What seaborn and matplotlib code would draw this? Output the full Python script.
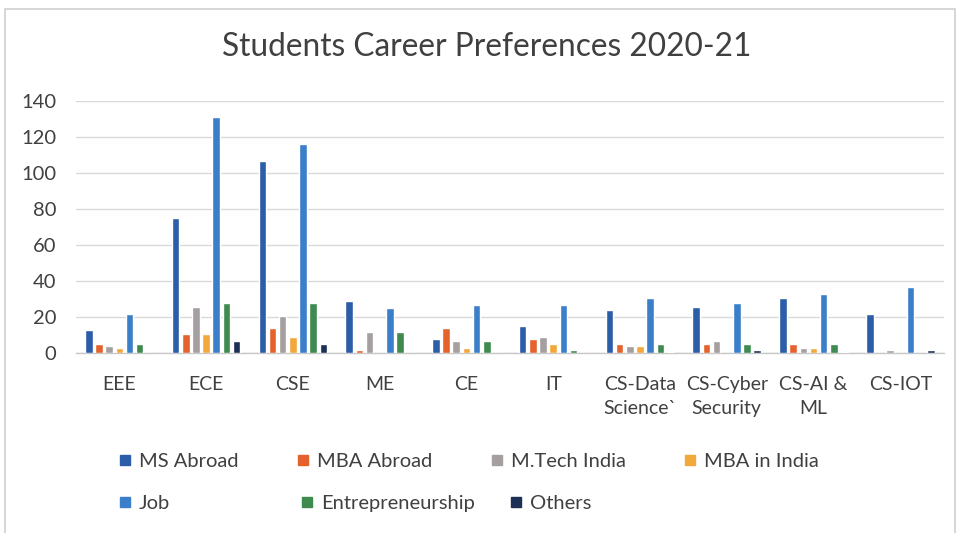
import matplotlib
matplotlib.use("Agg")
import matplotlib.pyplot as plt
from matplotlib.lines import Line2D
import seaborn as sns
import pandas as pd

branches = ["EEE", "ECE", "CSE", "ME", "CE", "IT",
            "CS-Data\nScience`", "CS-Cyber\nSecurity", "CS-AI &\nML", "CS-IOT"]
series = ["MS Abroad", "MBA Abroad", "M.Tech India", "MBA in India",
          "Job", "Entrepreneurship", "Others"]

ms_abroad = [13, 75, 107, 29, 8, 15, 24, 26, 31, 22]
mba_abroad = [5, 11, 14, 2, 14, 8, 5, 5, 5, 0.5]
mtech_india = [4, 26, 21, 12, 7, 9, 4, 7, 3, 2]
mba_india = [3, 11, 9, 0, 3, 5, 4, 0.5, 3, 0.5]
job = [22, 131, 116, 25, 27, 27, 31, 28, 33, 37]
entrepreneurship = [5, 28, 28, 12, 7, 2, 5, 5, 5, 0]
others = [0, 7, 5, 0, 0, 0, 1, 2, 1, 2]

yticks = [0, 20, 40, 60, 80, 100, 120, 140]

colors = ["#2c5da9", "#e5622c", "#a59f9f", "#f2a83a",
          "#3b7fca", "#3e8a4f", "#1c2f55"]

values = [ms_abroad, mba_abroad, mtech_india, mba_india, job, entrepreneurship, others]
rows = []
for s, vals in zip(series, values):
    for b, v in zip(branches, vals):
        rows.append({"Branch": b, "Preference": s, "Students": v})
df = pd.DataFrame(rows)

sns.set_theme(style="white")
plt.rcParams["font.family"] = ["Lato", "DejaVu Sans"]

fig = plt.figure(figsize=(9.61, 5.33), dpi=100)
fig.patch.set_facecolor("white")
ax = fig.add_axes([0.079, 0.3368, 0.903, 0.4737])

sns.barplot(data=df, x="Branch", y="Students", hue="Preference",
            order=branches, hue_order=series, palette=colors,
            width=0.82, gap=0.26, saturation=1, errorbar=None, ax=ax, zorder=3)

ax.set_ylim(0, 140)
ax.set_xlim(-0.5, len(branches) - 0.5)
ax.set_yticks(yticks)
ax.set_yticklabels([str(t) for t in yticks], fontsize=14.5, color="#404040")
ax.tick_params(axis="y", length=0, pad=14)
ax.tick_params(axis="x", length=0, pad=16)
for lab in ax.get_xticklabels():
    lab.set_fontsize(14)
    lab.set_color("#404040")
    lab.set_linespacing(1.55)
    lab.set_verticalalignment("top")
ax.set_xlabel("")
ax.set_ylabel("")
ax.yaxis.grid(True, color="#d9d9d9", linewidth=1, zorder=0)
ax.set_axisbelow(True)
for side in ["left", "right", "top"]:
    ax.spines[side].set_visible(False)
ax.spines["bottom"].set_color("#c8c8c8")
ax.spines["bottom"].set_linewidth(1)
ax.set_facecolor("white")

ax.get_legend().remove()

def sq(name):
    return Line2D([], [], marker="s", linestyle="none", markersize=7.5,
                  color=colors[series.index(name)])

leg_kw = dict(frameon=False, fontsize=14.5, handletextpad=0.25, handlelength=0.9,
              labelcolor="#404040", borderpad=0, borderaxespad=0)

row1 = ["MS Abroad", "MBA Abroad", "M.Tech India", "MBA in India"]
fig.legend([sq(n) for n in row1], row1, ncol=4, loc="center left",
           bbox_to_anchor=(116 / 961, 1 - 461 / 533), columnspacing=2.75, **leg_kw)
fig.legend([sq("Job")], ["Job"], loc="center left",
           bbox_to_anchor=(116 / 961, 1 - 503 / 533), **leg_kw)
row2b = ["Entrepreneurship", "Others"]
fig.legend([sq(n) for n in row2b], row2b, ncol=2, loc="center left",
           bbox_to_anchor=(298 / 961, 1 - 503 / 533), columnspacing=1.6, **leg_kw)

fig.text(0.506, 1 - 47 / 533, "Students Career Preferences 2020-21",
         ha="center", va="center", fontsize=22.8, color="#404040")

border = plt.Rectangle((5 / 961, -0.01), 950 / 961, 1 - 9 / 533 + 0.01,
                       transform=fig.transFigure, fill=False,
                       edgecolor="#d0d0d0", linewidth=1.2)
fig.patches.append(border)

fig.savefig("out.png", dpi=100, facecolor="white")
